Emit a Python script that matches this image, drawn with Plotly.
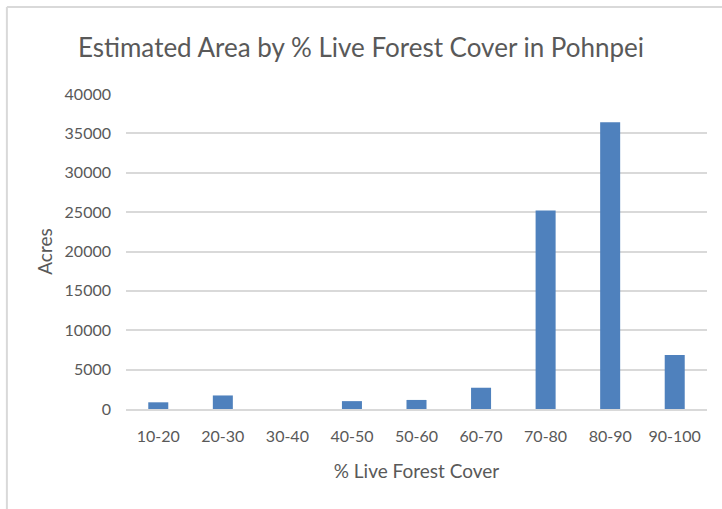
import plotly.graph_objects as go

categories = ["10-20", "20-30", "30-40", "40-50", "50-60",
              "60-70", "70-80", "80-90", "90-100"]
acres = [850, 1720, 0, 1000, 1150, 2700, 25200, 36400, 6850]

TEXT = "#595959"
GRID = "#d9d9d9"

fig = go.Figure(go.Bar(x=categories, y=acres, marker_color="#4F81BD",
                       marker_line_width=0))

fig.update_layout(
    width=722, height=509,
    margin=dict(l=126, r=15, t=94, b=100),
    paper_bgcolor="white", plot_bgcolor="white",
    bargap=0.69,
    showlegend=False,
    font=dict(family="Lato", size=16, color=TEXT),
    title=dict(text="Estimated Area by % Live Forest Cover in Pohnpei",
               x=0.5, xanchor="center", y=0.905, yanchor="middle",
               font=dict(size=26, color=TEXT)),
)
fig.update_xaxes(
    showgrid=False, showline=True, linecolor=GRID, linewidth=1.5,
    ticks="", ticklabelstandoff=12, tickfont=dict(size=16),
    title=dict(text="% Live Forest Cover", font=dict(size=19), standoff=21),
)
fig.update_yaxes(
    range=[0, 40000], dtick=5000, tickformat="d", showgrid=True,
    gridcolor=GRID, gridwidth=1.5, zeroline=False, showline=False,
    ticks="", ticklabelstandoff=14, tickfont=dict(size=16),
    title=dict(text="Acres", font=dict(size=19), standoff=6),
)
# light frame around the chart area (Excel-style chart border)
fig.add_shape(type="line", xref="paper", yref="paper",
              x0=-0.205, x1=1.05, y0=1.276, y1=1.276,
              line=dict(color=GRID, width=2))
fig.add_shape(type="line", xref="paper", yref="paper",
              x0=-0.205, x1=-0.205, y0=1.276, y1=-0.35,
              line=dict(color=GRID, width=2))

fig.write_html("out.html", config={"displayModeBar": False},
               post_script="document.body.style.margin='0';")
